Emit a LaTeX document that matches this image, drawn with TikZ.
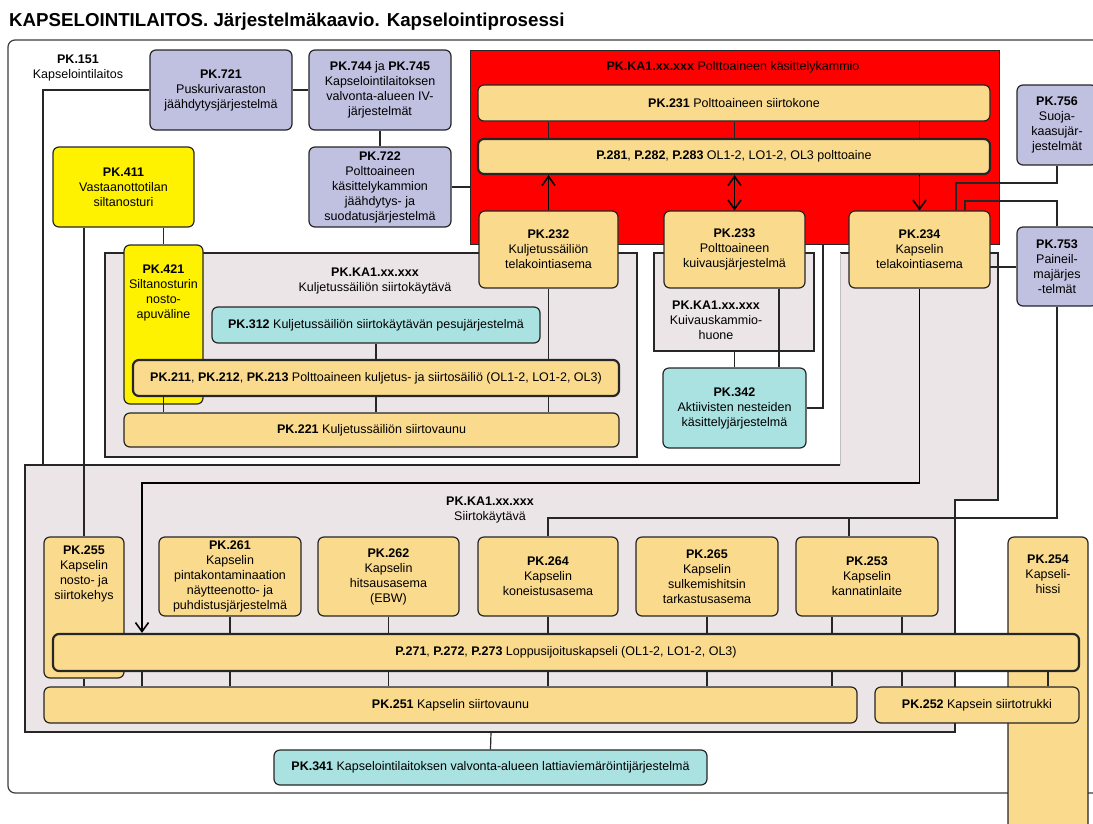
\documentclass[tikz,border=0pt]{standalone}
\usepackage{fontspec}
\setmainfont{Liberation Sans}
\usetikzlibrary{arrows.meta}
\definecolor{edge}{RGB}{38,38,38}
\definecolor{lav}{RGB}{192,192,224}
\definecolor{tan}{RGB}{250,218,140}
\definecolor{yel}{RGB}{255,242,0}
\definecolor{cya}{RGB}{170,226,226}
\definecolor{grayreg}{RGB}{236,229,231}
\definecolor{chamberred}{RGB}{255,0,0}
\pgfdeclarelayer{bg}
\pgfdeclarelayer{under}
\pgfdeclarelayer{lines}
\pgfsetlayers{bg,under,lines,main}
\newcommand\fs{\fontsize{12.5}{15}\selectfont}
% box from corner (x1,y1) to corner (x2,y2)
\newcommand{\bx}[7][box]{\node[#1,minimum width={#5-#3},minimum height={#6-#4}] (#2) at ({(#3+#5)/2},{(#4+#6)/2}) {#7};}
\begin{document}
\begin{tikzpicture}[x=1pt,y=-1pt,
  box/.style={draw=edge, line width=1.2pt, rounded corners=6pt, align=center, inner sep=2pt, font=\fs},
  thickbox/.style={box, line width=2.2pt},
  region/.style={draw=edge, line width=1.2pt, fill=grayreg, inner sep=0pt},
  chamber/.style={draw=edge, line width=1pt, fill=chamberred, inner sep=0pt},
  lav/.style={fill=lav}, tan/.style={fill=tan}, yel/.style={fill=yel}, cya/.style={fill=cya},
  lbl/.style={align=center, font=\fs, inner sep=0pt},
  ln/.style={draw=edge, line width=1.2pt},
  arr/.style={draw=black, line width=1.6pt, -{Straight Barb[length=9pt,width=13pt,line width=1.6pt]}},
  darr/.style={draw=black, line width=1.6pt, {Straight Barb[length=9pt,width=13pt,line width=1.6pt]}-{Straight Barb[length=9pt,width=13pt,line width=1.6pt]}},
  frame/.style={draw=edge!90, line width=1.2pt, rounded corners=7pt}
]
\clip (0,0) rectangle (1093,823);
\node[anchor=west, inner sep=0pt, font=\fontsize{18.7}{21}\selectfont\bfseries] (title) at (9,22)
  {KAPSELOINTILAITOS. Järjestelmäkaavio. Kapselointiprosessi};

% areas
\begin{pgfonlayer}{bg}
  \draw[frame] (8,40) rectangle (1112,793);
  \bx[region]{kst}{105}{253}{637}{457}{}
  \bx[region]{kkh}{654}{253}{814}{351}{}
  \fill[grayreg] (25,465) -- (840,465) -- (840,253) -- (998,253) -- (998,500)
     -- (955,500) -- (955,732) -- (25,732) -- cycle;
  \draw[ln] (840,465) -- (25,465) -- (25,732) -- (955,732) -- (955,500) -- (998,500)
     -- (998,253) -- (840,253);
  \draw[draw=black!25, line width=1pt] (840,253) -- (840,465);
  \bx[chamber]{kam}{470}{50}{999}{244}{}
\end{pgfonlayer}

\node[lbl] (l151) at (78,68) {\textbf{PK.151}\\Kapselointilaitos};
\node[lbl] (lkam) at (733,67) {\textbf{PK.KA1.xx.xxx} Polttoaineen käsittelykammio};
\node[lbl] (lkst) at (375,281) {\textbf{PK.KA1.xx.xxx}\\Kuljetussäiliön siirtokäytävä};
\node[lbl] (lkkh) at (716,320) {\textbf{PK.KA1.xx.xxx}\\Kuivauskammio-\\huone};
\node[lbl] (lsk) at (490,510) {\textbf{PK.KA1.xx.xxx}\\Siirtokäytävä};

% tall boxes that other parts overlap
\begin{pgfonlayer}{under}
  \bx[box,yel,label={[lbl,anchor=north,yshift=-20pt]north:{\textbf{PK.421}\\Siltanosturin\\nosto-\\apuväline}}]{pk421}{124}{245}{203}{404}{}
  \bx[box,tan,label={[lbl,anchor=north,yshift=-9pt]north:{\textbf{PK.255}\\Kapselin\\nosto- ja\\siirtokehys}}]{pk255}{44}{537}{124}{678}{}
  \bx[box,tan,label={[lbl,anchor=north,yshift=-18pt]north:{\textbf{PK.254}\\Kapseli-\\hissi}}]{pk254}{1008}{537}{1088}{850}{}
\end{pgfonlayer}

% top row
\bx[box,lav]{pk721}{150}{50}{292}{130}{\textbf{PK.721}\\Puskurivaraston\\jäähdytysjärjestelmä}
\bx[box,lav]{pk744}{309}{50}{451}{130}{\textbf{PK.744} ja \textbf{PK.745}\\Kapselointilaitoksen\\valvonta-alueen IV-\\järjestelmät}
\bx[box,lav]{pk722}{309}{147}{451}{227}{\textbf{PK.722}\\Polttoaineen\\käsittelykammion\\jäähdytys- ja\\suodatusjärjestelmä}
\bx[box,yel]{pk411}{53}{147}{194}{227}{\textbf{PK.411}\\Vastaanottotilan\\siltanosturi}
\bx[box,lav]{pk756}{1017}{85}{1097}{165}{\textbf{PK.756}\\Suoja-\\kaasujär-\\jestelmät}
\bx[box,lav]{pk753}{1017}{227}{1097}{306}{\textbf{PK.753}\\Paineil-\\majärjes\\-telmät}

% fuel handling chamber
\bx[box,tan]{pk231}{478}{85}{990}{121}{\textbf{PK.231} Polttoaineen siirtokone}
\bx[thickbox,tan]{p281}{478}{139}{990}{174}{\textbf{P.281}, \textbf{P.282}, \textbf{P.283} OL1-2, LO1-2, OL3 polttoaine}
\bx[box,tan]{pk232}{479}{211}{618}{288}{\textbf{PK.232}\\Kuljetussäiliön\\telakointiasema}
\bx[box,tan]{pk233}{664}{211}{805}{288}{\textbf{PK.233}\\Polttoaineen\\kuivausjärjestelmä}
\bx[box,tan]{pk234}{849}{211}{990}{288}{\textbf{PK.234}\\Kapselin\\telakointiasema}

% transport cask corridor
\bx[box,cya]{pk312}{212}{307}{540}{343}{\textbf{PK.312} Kuljetussäiliön siirtokäytävän pesujärjestelmä}
\bx[thickbox,tan]{pk211}{133}{360}{619}{396}{\textbf{PK.211}, \textbf{PK.212}, \textbf{PK.213} Polttoaineen kuljetus- ja siirtosäiliö (OL1-2, LO1-2, OL3)}
\bx[box,tan]{pk221}{124}{413}{619}{447}{\textbf{PK.221} Kuljetussäiliön siirtovaunu}
\bx[box,cya]{pk342}{663}{368}{806}{448}{\textbf{PK.342}\\Aktiivisten nesteiden\\käsittelyjärjestelmä}

% capsule corridor
\bx[box,tan]{pk261}{159}{537}{301}{616}{\textbf{PK.261}\\Kapselin\\pintakontaminaation\\näytteenotto- ja\\puhdistusjärjestelmä}
\bx[box,tan]{pk262}{318}{537}{459}{616}{\textbf{PK.262}\\Kapselin\\hitsausasema\\(EBW)}
\bx[box,tan]{pk264}{478}{537}{618}{616}{\textbf{PK.264}\\Kapselin\\koneistusasema}
\bx[box,tan]{pk265}{636}{537}{778}{616}{\textbf{PK.265}\\Kapselin\\sulkemishitsin\\tarkastusasema}
\bx[box,tan]{pk253}{796}{537}{938}{616}{\textbf{PK.253}\\Kapselin\\kannatinlaite}
\bx[thickbox,tan]{p271}{53}{634}{1079}{671}{\textbf{P.271}, \textbf{P.272}, \textbf{P.273} Loppusijoituskapseli (OL1-2, LO1-2, OL3)}
\bx[box,tan]{pk251}{44}{687}{857}{723}{\textbf{PK.251} Kapselin siirtovaunu}
\bx[box,tan]{pk252}{875}{687}{1079}{723}{\textbf{PK.252} Kapsein siirtotrukki}
\bx[box,cya]{pk341}{274}{750}{707}{785}{\textbf{PK.341} Kapselointilaitoksen valvonta-alueen lattiaviemäröintijärjestelmä}

% bend points of connectors
\coordinate (c721) at (43,465);
\coordinate (c342) at (823,408);
\coordinate (c756) at (956,183);
\coordinate (c753) at (965,201);
\coordinate (c234) at (990,267);
\coordinate (bus) at (548,518);
\coordinate (b253) at (849,518);
\coordinate (c483) at (142,483);
\coordinate (l253) at (832,600);
\coordinate (r253) at (902,600);
\coordinate (g3b) at (491,732);
\coordinate (x233) at (779,300);

\begin{pgfonlayer}{lines}
  \draw[ln] (pk721.west) -| (c721);
  \draw[ln] (pk721.east) -- (pk744.west);
  \draw[ln] (pk744.south) -- (pk722.north);
  \draw[ln] (pk722.east) -- (pk722.east -| kam.west);
  \draw[ln] (pk411.south -| pk255.north) -- (pk255.north);
  \draw[ln] (pk411.south -| pk421.north) -- (pk421.north);
  \draw[ln] (pk211.south -| pk421.south) -- (pk421.south |- pk221.north);
  \draw[ln] (pk312.south) -- (pk312.south |- pk211.north);
  \draw[ln] (pk211.south -| pk312.south) -- (pk312.south |- pk221.north);
  \draw[ln] (pk232.south) -- (pk232.south |- pk211.north);
  \draw[ln] (pk211.south -| pk232.south) -- (pk232.south |- pk221.north);
  \foreach \n in {pk232,pk233,pk234}
    \draw[ln] (pk231.south -| \n.north) -- (p281.north -| \n.north);
  \draw[arr] (pk232.north) -- (p281.south -| pk232.north);
  \draw[darr] (pk233.north) -- (p281.south -| pk233.north);
  \draw[arr] (p281.south -| pk234.north) -- (pk234.north);
  \draw[ln] (pk233.south -| x233) -- (pk342.north -| x233);
  \draw[ln] (kkh.south -| pk342.north) -- (pk342.north);
  \draw[ln] (pk342.east) -- (c342) -- (c342 |- kam.south);
  \draw[ln] (pk756.south) |- (c756) -- (c756 |- pk234.north);
  \draw[ln] (pk753.north) |- (c753) -- (c753 |- pk234.north);
  \draw[ln] (c234) -- (c234 -| pk753.west);
  \draw[ln] (pk753.south) |- (bus) -- (pk264.north);
  \draw[ln] (b253) -- (b253 |- pk253.north);
  \draw[arr] (pk234.south) |- (c483) -- (c483 |- p271.north);
  \draw[ln] (pk255.south) -- (pk255.south |- pk251.north);
  \draw[ln] (p271.south -| c483) -- (c483 |- pk251.north);
  \foreach \n in {pk261,pk262,pk264,pk265} {
    \draw[ln] (\n.south) -- (\n.south |- p271.north);
    \draw[ln] (p271.south -| \n.south) -- (\n.south |- pk251.north);
  }
  \draw[ln] (pk253.south -| l253) -- (p271.north -| l253);
  \draw[ln] (pk253.south -| r253) -- (p271.north -| r253);
  \draw[ln] (p271.south -| l253) -- (pk251.north -| l253);
  \draw[ln] (p271.south -| r253) -- (pk252.north -| r253);
  \draw[ln] (p271.south -| pk254.north) -- (pk252.north -| pk254.north);
  \draw[ln] (g3b) -- (pk341.north);
\end{pgfonlayer}
\end{tikzpicture}
\end{document}
